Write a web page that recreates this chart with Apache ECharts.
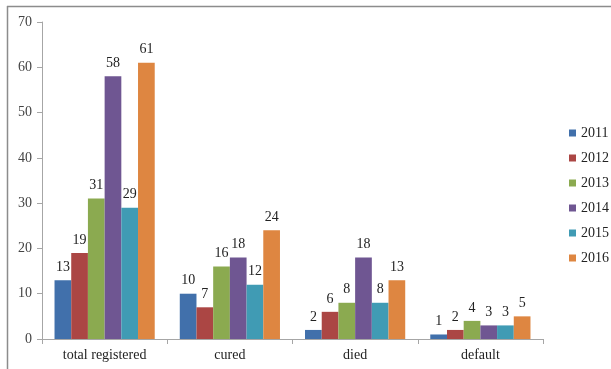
<!DOCTYPE html>
<html><head><meta charset="utf-8">
<script src="https://cdn.jsdelivr.net/npm/echarts@6/dist/echarts.min.js"></script>
<style>html,body{margin:0;padding:0;background:#fff}#c{width:611px;height:369px}</style>
</head><body><div id="c"></div>
<script>
var categories = ['total registered', 'cured', 'died', 'default'];
var years = ['2011', '2012', '2013', '2014', '2015', '2016'];
var v2011 = [13, 10, 2, 1];
var v2012 = [19, 7, 6, 2];
var v2013 = [31, 16, 8, 4];
var v2014 = [58, 18, 18, 3];
var v2015 = [29, 12, 8, 3];
var v2016 = [61, 24, 13, 5];
var colors = ['#4170AB', '#AB4644', '#8BAA50', '#6F5692', '#409BB4', '#DE8641'];
var values = [v2011, v2012, v2013, v2014, v2015, v2016];
var font = '"Liberation Serif", "Times New Roman", serif';
var chart = echarts.init(document.getElementById('c'));
chart.setOption({
  animation: false,
  color: colors,
  textStyle: { fontFamily: font },
  graphic: [
    { type: 'line', shape: { x1: 7, y1: 6.5, x2: 611, y2: 6.5 }, style: { stroke: '#8c8c8c', lineWidth: 1.5 } },
    { type: 'line', shape: { x1: 7.5, y1: 6, x2: 7.5, y2: 369 }, style: { stroke: '#8c8c8c', lineWidth: 1.5 } }
  ],
  grid: { left: 42, top: 22, right: 68, bottom: 30, containLabel: false },
  legend: {
    orient: 'vertical', left: 564, top: 120,
    icon: 'rect', itemWidth: 7, itemHeight: 7, itemGap: 9,
    textStyle: { fontFamily: font, fontSize: 14, color: '#222', lineHeight: 16 },
    data: years
  },
  xAxis: {
    type: 'category', data: categories,
    axisLine: { lineStyle: { color: '#A6A6A6' } },
    axisTick: { show: true, length: 5, lineStyle: { color: '#A6A6A6' } },
    axisLabel: { fontFamily: font, fontSize: 14, color: '#222', margin: 9 }
  },
  yAxis: {
    type: 'value', min: 0, max: 70, interval: 10,
    axisLine: { show: true, lineStyle: { color: '#A6A6A6' } },
    axisTick: { show: true, length: 5, lineStyle: { color: '#A6A6A6' } },
    splitLine: { show: false },
    axisLabel: { fontFamily: font, fontSize: 14, color: '#444', margin: 10 }
  },
  series: years.map(function (y, i) {
    return {
      name: y, type: 'bar', data: values[i],
      barGap: '0%', barCategoryGap: '20%',
      label: { show: true, position: 'top', distance: 6, fontFamily: font, fontSize: 14, color: '#222' }
    };
  })
});
</script></body></html>
